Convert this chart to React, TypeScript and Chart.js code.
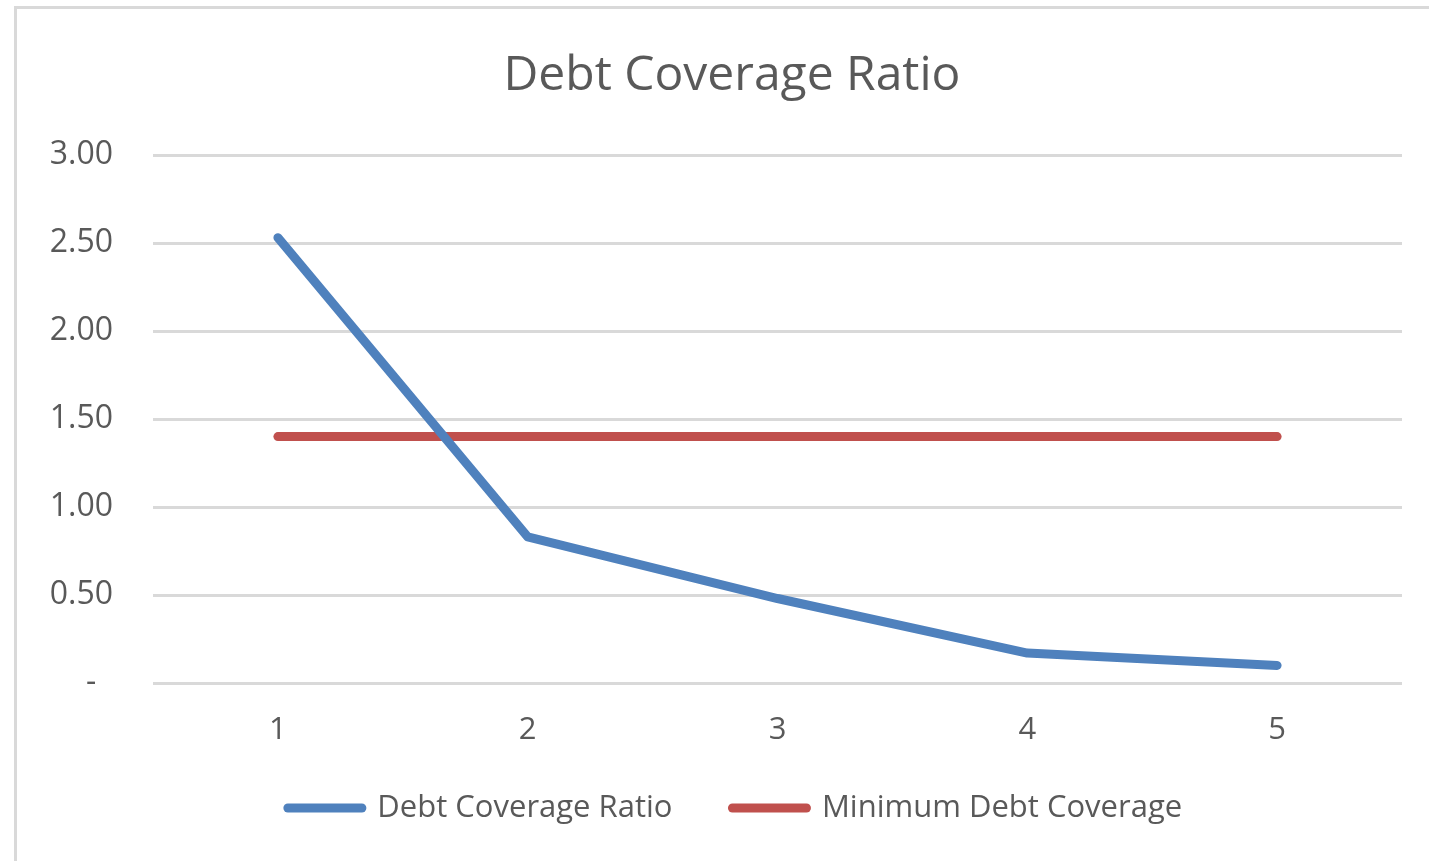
import React, { useEffect, useRef } from "react";
import { Chart, registerables } from "chart.js";

Chart.register(...registerables);

const categories = ["1", "2", "3", "4", "5"];
const debtCoverageRatio = [2.53, 0.83, 0.48, 0.17, 0.1];
const minimumDebtCoverage = [1.4, 1.4, 1.4, 1.4, 1.4];
const seriesNames = ["Debt Coverage Ratio", "Minimum Debt Coverage"];
const seriesColors = ["#4F81BD", "#C0504D"];
const chartTitle = "Debt Coverage Ratio";

const FONT = "'Open Sans', 'Noto Sans', sans-serif";
const TEXT = "#595959";

// nudge title and legend boxes after layout (layout only, not data)
const boxShift = {
  id: "boxShift",
  afterLayout(chart: any) {
    const move = (b: any, dx: number, dy: number) => {
      if (!b) return;
      b.left += dx;
      b.right += dx;
      b.top += dy;
      b.bottom += dy;
    };
    move(chart.titleBlock, 31, 0);
    move(chart.legend, 34, -18.5);
  },
};

export default function App() {
  const ref = useRef<HTMLCanvasElement | null>(null);

  useEffect(() => {
    if (!ref.current) return;
    const chart = new Chart(ref.current, {
      type: "line",
      data: {
        labels: categories,
        datasets: [
          {
            label: seriesNames[0],
            data: debtCoverageRatio,
            borderColor: seriesColors[0],
            backgroundColor: seriesColors[0],
            borderWidth: 9,
            pointRadius: 0,
            pointHoverRadius: 0,
            borderCapStyle: "round",
            borderJoinStyle: "round",
            pointStyle: "line",
            tension: 0,
          },
          {
            label: seriesNames[1],
            data: minimumDebtCoverage,
            borderColor: seriesColors[1],
            backgroundColor: seriesColors[1],
            borderWidth: 9,
            pointRadius: 0,
            pointHoverRadius: 0,
            borderCapStyle: "round",
            borderJoinStyle: "round",
            pointStyle: "line",
            tension: 0,
          },
        ],
      },
      options: {
        responsive: false,
        animation: false,
        layout: { padding: { left: 0, right: 27, top: 0, bottom: 9 } },
        plugins: {
          tooltip: { enabled: false },
          title: {
            display: true,
            text: chartTitle,
            color: TEXT,
            font: { family: FONT, size: 48, weight: "normal" },
            padding: { top: 48, bottom: 49.4 },
          },
          legend: {
            position: "bottom",
            labels: {
              usePointStyle: true,
              pointStyleWidth: 74,
              color: TEXT,
              font: { family: FONT, size: 31 },
              padding: 60,
              generateLabels: (c: any) => {
                const items = (Chart.defaults as any).plugins.legend.labels.generateLabels(c);
                return items.map((it: any) => ({
                  ...it,
                  lineCap: "round",
                  lineWidth: 9,
                  strokeStyle: seriesColors[it.datasetIndex],
                  fillStyle: seriesColors[it.datasetIndex],
                }));
              },
            },
          },
        },
        scales: {
          x: {
            type: "category",
            offset: true,
            grid: { display: false, drawTicks: false },
            border: { display: false },
            ticks: {
              color: TEXT,
              font: { family: FONT, size: 31 },
              padding: 28.4,
            },
            afterFit: (s: any) => {
              s.height = 68;
            },
          },
          y: {
            min: 0,
            max: 3,
            grid: { color: "#d9d9d9", lineWidth: 3, drawTicks: false },
            border: { display: false },
            ticks: {
              stepSize: 0.5,
              color: TEXT,
              font: { family: FONT, size: 32 },
              padding: 40,
              callback: (v: any) => (Number(v) === 0 ? "-  " : Number(v).toFixed(2)),
            },
            afterFit: (s: any) => {
              s.width = 153;
            },
          },
        },
      },
      plugins: [boxShift],
    });
    return () => chart.destroy();
  }, []);

  return (
    <div
      style={{
        position: "absolute",
        left: 0,
        top: 0,
        width: 1429,
        height: 861,
        overflow: "hidden",
        background: "#ffffff",
      }}
    >
      <div
        style={{
          position: "absolute",
          left: 14,
          top: 6,
          width: 1460,
          height: 900,
          border: "3px solid #d9d9d9",
          boxSizing: "border-box",
        }}
      />
      <canvas
        ref={ref}
        width={1429}
        height={861}
        style={{ position: "absolute", left: 0, top: 0, width: 1429, height: 861 }}
      />
    </div>
  );
}
